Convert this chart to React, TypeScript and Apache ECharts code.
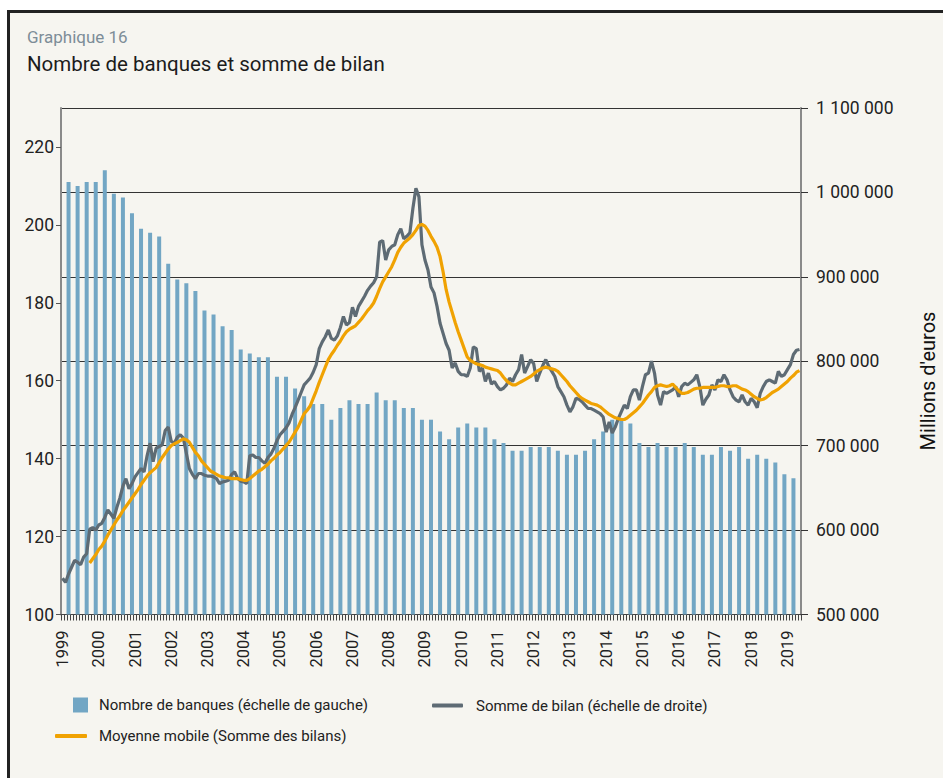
import React, { useEffect, useRef } from "react";
import * as echarts from "echarts";

// ---------- data ----------
const startYear = 1999;
const monthCount = 245; // Jan 1999 .. May 2019

// Number of banks, quarter-ends (Mar 1999 .. Mar 2019)
const bankCounts = [
  211, 210, 211, 211, 214, 208, 207, 203, 199, 198,
  197, 190, 186, 185, 183, 178, 177, 174, 173, 168,
  167, 166, 166, 161, 161, 158, 156, 154, 154, 150,
  153, 155, 154, 154, 157, 155, 155, 153, 153, 150,
  150, 147, 145, 148, 149, 148, 148, 145, 144, 142,
  142, 143, 143, 143, 142, 141, 141, 142, 145, 147,
  150, 150, 149, 144, 143, 144, 143, 143, 144, 143,
  141, 141, 143, 142, 143, 140, 141, 140, 139, 136,
  135,
];

// Balance sheet total, monthly (millions EUR)
const balanceSheet = [
  543, 538, 548, 556, 564, 562, 559, 568, 572, 601,
  603, 600, 606, 608, 615, 624, 619, 614, 627, 638,
  652, 661, 649, 655, 663, 668, 673, 669, 688, 703,
  681, 697, 699, 701, 718, 722, 705, 703, 710, 713,
  709, 691, 673, 666, 661, 667, 667, 665, 664, 664,
  663, 661, 655, 657, 658, 659, 666, 669, 661, 658,
  657, 655, 688, 689, 686, 686, 682, 679, 686, 690,
  697, 706, 713, 717, 721, 727, 737, 745, 754, 763,
  772, 776,
  780, 787, 796, 815, 823, 829, 837, 827, 825, 830,
  840, 853, 843, 846, 864, 853, 865, 871, 877, 884,
  889, 893, 900, 941, 943, 920, 932, 936, 938, 950,
  957, 945, 948, 952, 981, 1005, 995, 938, 920, 908,
  888, 881, 865, 845, 833, 821, 813, 792, 798, 788,
  784, 784, 782, 792, 817, 815, 788, 792, 776, 786,
  773, 776, 770, 766, 768, 772, 780, 776, 784, 790,
  808, 786, 794, 802, 797, 776, 786, 795, 802, 794,
  788,
  782, 770, 764, 758, 748, 740, 746, 756, 755, 752,
  748, 744, 744, 742, 740, 738, 734, 716, 728, 715,
  722, 732, 740, 748, 744, 758, 766, 766, 754, 770,
  784, 786, 800, 786, 760, 748, 764, 762, 764, 766,
  770, 758, 770, 774, 772, 775, 778, 784, 770, 748,
  755, 760, 772, 766, 778, 776, 784, 778, 766, 758,
  754, 752, 760, 752, 748, 756, 752, 745, 762, 770,
  776, 778, 776, 774, 788, 782, 784, 790, 796, 808,
  813, 814,
];

// Moving average, starts at month index 9 (Oct 1999)
const maStartIndex = 9;
const movingAverage = [
  561, 566, 571, 577, 581, 587, 594, 600, 606, 612, 617,
  623, 628, 633, 638, 643, 648, 654, 659, 664, 668,
  671, 674, 680, 686, 691, 696, 700, 702, 704, 706,
  708, 707, 704, 698, 692, 688, 682, 678, 674, 670,
  668, 666, 664, 663, 662, 662, 661, 661, 661, 660,
  659, 659, 661, 664, 667, 670, 672, 675, 678, 682,
  685, 689, 692, 696, 700, 704, 710, 716, 722, 730,
  738, 742,
  747, 756, 765, 775, 784, 793, 802, 808, 813, 819,
  824, 830, 835, 838, 840, 842, 846, 850, 855, 860,
  864, 869, 877, 886, 894, 900, 906, 912, 920, 929,
  935, 940, 943, 946, 950, 955, 961, 962, 960, 955,
  948, 942, 935, 924, 906, 885, 870, 858, 846, 835,
  825, 815, 805, 801, 799, 797, 796, 795, 793, 792,
  791, 790, 789, 786, 781, 777, 774, 772, 772, 774,
  776, 778, 780, 782, 785, 788, 790, 792, 793, 792,
  791,
  790, 788, 784, 780, 776, 771, 767, 763, 759, 756,
  754, 752, 750, 749, 748, 746, 743, 740, 737, 735,
  733, 732, 731, 731, 733, 736, 739, 742, 746, 750,
  755, 760, 764, 769, 771, 772, 771, 770, 771, 773,
  769, 765, 762, 762, 763, 765, 767, 768, 768, 769,
  769, 769, 769, 769, 770, 771, 771, 770, 770, 771,
  771, 769, 767, 766, 764, 761, 758, 756, 754, 755,
  757, 760, 763, 765, 767, 770, 773, 776, 780, 783,
  787, 789,
];

const seriesNames = [
  "Nombre de banques (échelle de gauche)",
  "Somme de bilan (échelle de droite)",
  "Moyenne mobile (Somme des bilans)",
];

// ---------- derived tables ----------
const categories: string[] = [];
for (let i = 0; i < monthCount; i++) {
  const y = startYear + Math.floor(i / 12);
  const m = (i % 12) + 1;
  categories.push(`${y}-${m < 10 ? "0" + m : m}`);
}
const barData: (number | string)[] = categories.map(() => "-");
bankCounts.forEach((v, k) => {
  barData[3 * k + 2] = v;
});
const bsData = balanceSheet.map((v) => v * 1000);
const maData: (number | string)[] = categories.map(() => "-");
movingAverage.forEach((v, k) => {
  maData[maStartIndex + k] = v * 1000;
});

const FONT = "Roboto, 'Liberation Sans', sans-serif";

export default function App() {
  const ref = useRef<HTMLDivElement>(null);
  useEffect(() => {
    if (!ref.current) return;
    const chart = echarts.init(ref.current, undefined, { renderer: "svg" });
    const option: any = {
      animation: false,
      backgroundColor: "#ffffff",
      textStyle: { fontFamily: FONT },
      graphic: [
        {
          type: "rect",
          z: -100,
          silent: true,
          shape: { x: 8.5, y: 11.5, width: 1000, height: 1000 },
          style: { fill: "#f6f5f0", stroke: "#222222", lineWidth: 3 },
        },
        {
          type: "text",
          x: 27,
          y: 37,
          style: {
            text: "Graphique 16",
            fill: "#7d8d98",
            font: `17px ${FONT}`,
            textVerticalAlign: "middle",
            verticalAlign: "middle",
          },
        },
        {
          type: "text",
          x: 27,
          y: 64,
          style: {
            text: "Nombre de banques et somme de bilan",
            fill: "#1c1c1c",
            font: `20.5px ${FONT}`,
            textVerticalAlign: "middle",
            verticalAlign: "middle",
          },
        },
        {
          type: "text",
          x: 928,
          y: 381,
          rotation: Math.PI / 2,
          style: {
            text: "Millions d'euros",
            fill: "#111111",
            font: `20px ${FONT}`,
            textAlign: "center",
            align: "center",
            textVerticalAlign: "middle",
            verticalAlign: "middle",
          },
        },
      ],
      grid: { left: 61, right: 142, top: 108, bottom: 163.5, containLabel: false },
      legend: [
        {
          data: [seriesNames[0]],
          left: 73,
          top: 697.5,
          padding: 0,
          itemWidth: 15,
          itemHeight: 15,
          icon: "rect",
          selectedMode: false,
          textStyle: { fontSize: 15, color: "#222", fontFamily: FONT, padding: [0, 0, 0, 6] },
        },
        {
          data: [seriesNames[1]],
          left: 432,
          top: 698,
          padding: 0,
          itemWidth: 31,
          itemHeight: 4,
          icon: "roundRect",
          selectedMode: false,
          textStyle: { fontSize: 15, color: "#222", fontFamily: FONT, padding: [0, 0, 0, 8] },
        },
        {
          data: [seriesNames[2]],
          left: 55,
          top: 728.5,
          padding: 0,
          itemWidth: 32,
          itemHeight: 4,
          icon: "roundRect",
          selectedMode: false,
          textStyle: { fontSize: 15, color: "#222", fontFamily: FONT, padding: [0, 0, 0, 7] },
        },
      ],
      xAxis: {
        type: "category",
        data: categories,
        boundaryGap: true,
        axisLine: { show: true, lineStyle: { color: "#444", width: 1 } },
        axisTick: { show: true, interval: 0, length: 6, lineStyle: { color: "#444", width: 1 } },
        axisLabel: {
          interval: (index: number) => index % 12 === 0,
          formatter: (v: string) => v.slice(0, 4),
          rotate: 90,
          margin: 16,
          fontSize: 16.5,
          color: "#222",
          fontFamily: FONT,
          padding: [7, 0, 0, 0],
        },
        splitLine: { show: false },
      },
      yAxis: [
        {
          type: "value",
          position: "left",
          min: 100,
          max: 230,
          interval: 20,
          axisLine: { show: true, lineStyle: { color: "#8a8a8a", width: 2 } },
          axisTick: { show: true, length: 5, lineStyle: { color: "#555", width: 1 } },
          axisLabel: { fontSize: 17.5, color: "#222", margin: 7, showMaxLabel: false, fontFamily: FONT },
          splitLine: { show: false },
        },
        {
          type: "value",
          position: "right",
          min: 500000,
          max: 1100000,
          interval: 100000,
          axisLine: { show: true, lineStyle: { color: "#8a8a8a", width: 2 } },
          axisTick: { show: true, length: 7, lineStyle: { color: "#333", width: 1 } },
          axisLabel: {
            fontSize: 17.5,
            color: "#222",
            margin: 15,
            fontFamily: FONT,
            formatter: (v: number) => String(v).replace(/\B(?=(\d{3})+(?!\d))/g, " "),
          },
          splitLine: { show: true, lineStyle: { color: "#333", width: 1 } },
        },
      ],
      series: [
        {
          name: seriesNames[0],
          type: "bar",
          yAxisIndex: 0,
          data: barData,
          barWidth: 4,
          color: "#72a6c4",
          itemStyle: { color: "#72a6c4" },
          z: 1,
        },
        {
          name: seriesNames[1],
          type: "line",
          yAxisIndex: 1,
          data: bsData,
          showSymbol: false,
          symbol: "none",
          color: "#5e6b74",
          lineStyle: { color: "#5e6b74", width: 3.2 },
          z: 3,
        },
        {
          name: seriesNames[2],
          type: "line",
          yAxisIndex: 1,
          data: maData,
          showSymbol: false,
          symbol: "none",
          color: "#f0a202",
          lineStyle: { color: "#f0a202", width: 3.2 },
          z: 4,
        },
      ],
    };
    chart.setOption(option);
    return () => chart.dispose();
  }, []);
  return (
    <div
      ref={ref}
      style={{ position: "absolute", left: 0, top: 0, width: 943, height: 778 }}
    />
  );
}
